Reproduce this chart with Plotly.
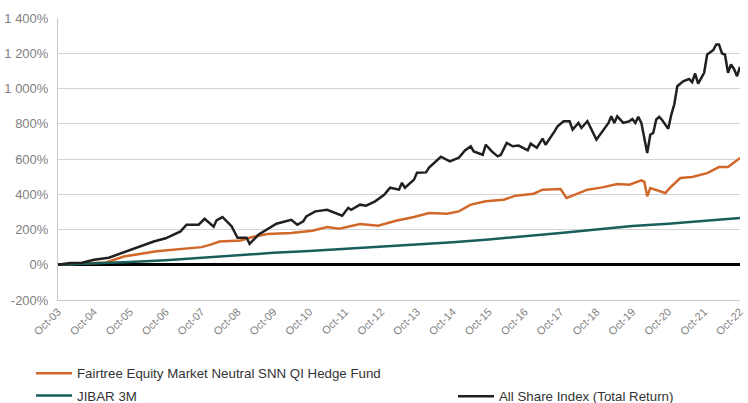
import plotly.graph_objects as go

asi_dates = ["2003-10","2004-02","2004-06","2004-10","2005-03","2005-10","2006-06","2006-10","2007-03","2007-05",
 "2007-09","2007-11","2008-02","2008-03","2008-05","2008-08","2008-10","2009-01","2009-02","2009-05",
 "2009-08","2009-11","2010-04","2010-06","2010-08","2010-09","2010-12","2011-04","2011-09","2011-11",
 "2011-12","2012-03","2012-05","2012-08","2012-11","2013-01","2013-04","2013-05","2013-06","2013-09",
 "2013-10","2014-01","2014-02","2014-06","2014-09","2014-12","2015-02","2015-04","2015-05","2015-08",
 "2015-09","2015-11","2016-01","2016-02","2016-04","2016-06","2016-08","2016-11","2016-12","2017-02",
 "2017-04","2017-05","2017-08","2017-09","2017-11","2018-01","2018-02","2018-04","2018-05","2018-07",
 "2018-10","2018-12","2019-02","2019-03","2019-04","2019-05","2019-07","2019-09","2019-10","2019-11",
 "2019-12","2020-01","2020-02","2020-03","2020-04","2020-05","2020-06","2020-07","2020-08","2020-10",
 "2020-11","2020-12","2021-01","2021-03","2021-05","2021-06","2021-07","2021-08","2021-10","2021-11",
 "2022-01","2022-02","2022-03","2022-04","2022-05","2022-06","2022-07","2022-08","2022-09","2022-10"]
asi_values = [0,10,12,28,40,85,132,150,189,227,
 227,261,216,252,270,219,153,153,119,170,
 202,233,255,227,246,274,303,312,278,323,
 312,341,335,360,397,437,426,465,437,483,
 522,524,551,613,587,607,649,672,643,624,
 681,643,615,624,691,672,676,649,687,664,
 716,681,757,786,814,814,767,805,776,814,
 710,757,805,842,805,842,805,814,827,805,
 839,805,710,634,738,748,824,839,820,771,
 852,909,1013,1041,1054,1036,1085,1028,1089,1193,
 1217,1250,1250,1199,1193,1089,1136,1111,1070,1123]

fund_dates = ["2003-10","2004-08","2004-10","2005-02","2005-08","2006-07","2007-06","2007-10","2008-01","2008-04",
 "2008-11","2009-03","2009-08","2010-04","2010-11","2011-04","2011-08","2011-09","2012-03","2012-09",
 "2013-03","2013-09","2014-02","2014-08","2014-12","2015-04","2015-09","2016-03","2016-07","2017-01",
 "2017-04","2017-10","2017-12","2018-02","2018-07","2018-12","2019-05","2019-09","2020-01","2020-02",
 "2020-03","2020-04","2020-09","2020-11","2021-02","2021-06","2021-11","2022-03","2022-06","2022-10"]
fund_values = [0,5,10,13,47,76,95,100,114,132,
 138,157,174,180,193,214,204,208,231,221,
 250,271,293,289,303,341,360,369,392,403,
 426,430,379,392,426,439,458,454,479,470,
 388,435,407,444,492,498,520,554,554,606]

jibar_dates = ["2003-10","2004-10","2005-10","2006-10","2007-10","2008-10","2009-10","2010-10","2011-10","2012-10",
 "2013-10","2014-10","2015-10","2016-10","2017-10","2018-10","2019-10","2020-10","2021-10","2022-10"]
jibar_values = [0,6,15,25,40,57,68,78,90,102,115,128,143,160,180,200,220,233,247,265]

x_tick_dates = ["%d-10-01" % y for y in range(2003, 2023)]
y_tick_vals = [-200, 0, 200, 400, 600, 800, 1000, 1200, 1400]
y_tick_text = ["-200%", "0%", "200%", "400%", "600%", "800%", "1 000%", "1 200%", "1 400%"]

fig = go.Figure()
fig.add_trace(go.Scatter(x=fund_dates, y=fund_values, mode="lines",
    name="Fairtree Equity Market Neutral SNN QI Hedge Fund",
    line=dict(color="#D2672A", width=2.5), legend="legend", legendgroup="a"))
fig.add_trace(go.Scatter(x=jibar_dates, y=jibar_values, mode="lines", name="JIBAR 3M",
    line=dict(color="#185E5B", width=2.5), legend="legend", legendgroup="b"))
fig.add_trace(go.Scatter(x=asi_dates, y=asi_values, mode="lines", name="All Share Index (Total Return)",
    line=dict(color="#231F20", width=2.5), legend="legend2"))

W, H = 748, 403
L, R, T, B = 58, 8, 18, 103
pw, ph = W - L - R, H - T - B

def px_x(p):
    return (p - L) / pw

def px_y(p):
    return (H - B - p) / ph

fig.update_layout(
    width=W, height=H,
    margin=dict(l=L, r=R, t=T, b=B, autoexpand=False),
    paper_bgcolor="white", plot_bgcolor="white",
    font=dict(family="Liberation Sans, Arial, sans-serif", color="#7F7F7F"),
    legend=dict(x=px_x(31), y=px_y(358), xanchor="left", yanchor="top",
                orientation="v", traceorder="grouped", tracegroupgap=2, itemwidth=36,
                font=dict(size=13.3, color="#333333"), bgcolor="rgba(0,0,0,0)"),
    legend2=dict(x=px_x(453), y=px_y(381), xanchor="left", yanchor="top", itemwidth=36,
                 font=dict(size=13.3, color="#333333"), bgcolor="rgba(0,0,0,0)"),
    xaxis=dict(type="date", range=["2003-10-01", "2022-10-01"],
               tickvals=x_tick_dates, tickformat="%b-%y", tickangle=-45,
               tickfont=dict(size=11, color="#7F7F7F"),
               showgrid=False, showline=True, linecolor="#C8C8C8", linewidth=1,
               ticks="", zeroline=False),
    yaxis=dict(range=[-200, 1400], tickvals=y_tick_vals, ticktext=y_tick_text,
               tickfont=dict(size=13, color="#7F7F7F"),
               showgrid=True, gridcolor="#D4D4D4", gridwidth=1.3,
               showline=True, linecolor="#C8C8C8", linewidth=1,
               zeroline=True, zerolinecolor="#000000", zerolinewidth=3,
               ticks="outside", ticklen=6, tickcolor="rgba(0,0,0,0)"),
)

fig.write_html("out.html", config={"displayModeBar": False},
               post_script="document.body.style.margin='0';")
